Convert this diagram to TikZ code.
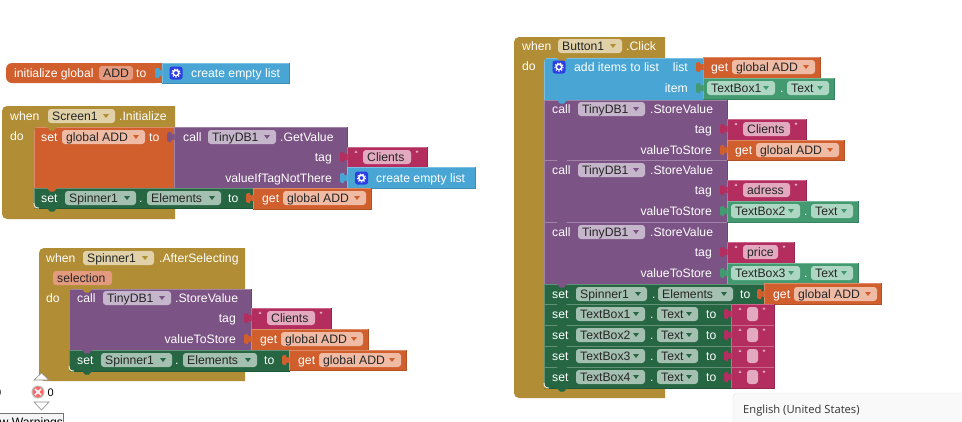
\documentclass[tikz,border=0pt]{standalone}
\usepackage{fontspec}
\setmainfont{Liberation Sans}
\newfontfamily\popupfont{Open Sans}

\definecolor{blkolive}{HTML}{B18E35}
\definecolor{blkorange}{HTML}{D05F2D}
\definecolor{blkblue}{HTML}{49A6D4}
\definecolor{blkpurple}{HTML}{7C5385}
\definecolor{blkmagenta}{HTML}{B32D5E}
\definecolor{blkgreen}{HTML}{266643}
\definecolor{blkteal}{HTML}{439970}
\definecolor{fldolive}{HTML}{E0D1A8}
\definecolor{fldorange}{HTML}{F0BBA5}
\definecolor{fldname}{HTML}{E39A7F}
\definecolor{fldpurple}{HTML}{C6B6CB}
\definecolor{fldmagenta}{HTML}{E3A9BF}
\definecolor{fldgreen}{HTML}{A4C0B1}
\definecolor{fldteal}{HTML}{ADD7C3}
\definecolor{iconblue}{HTML}{2B3FE3}

\tikzset{
  blktext/.style={inner sep=0pt,font=\fontsize{12.2}{14}\selectfont},
  lbl/.style={blktext,text=white,anchor=base west},
  lblr/.style={blktext,text=white,anchor=base east},
  fldtext/.style={blktext,text=black!85,anchor=base west},
  quotemark/.style={inner sep=0pt,text=white,font=\fontsize{9}{9}\selectfont}
}

% color, x1, y1, x2, y2
\newcommand{\blk}[5]{
  \fill[#1] (#2,#3) rectangle (#4,#5);
  \draw[#1!72!white,line width=.6pt] (#2,#5) -- (#2,#3) -- (#4,#3);
  \draw[#1!85!black,line width=.6pt] (#2,#5) -- (#4,#5) -- (#4,#3);
}
% x1, y1, x2, y2, x of inner edge, y of bar bottom, y of bottom bar top
\newcommand{\hatblk}[7]{
  \fill[blkolive] (#3,#6) -- (#3,#2) [rounded corners=5pt] -- (#1,#2) -- (#1,#4) [sharp corners] -- (#3,#4)
     -- (#3,#7) -- (#5,#7) -- (#5,#6) -- cycle;
}
% color, x of edge, y of centre
\newcommand{\tabon}[3]{
  \fill[#1] (#2+.5,#3-3) .. controls (#2-1.5,#3-2) and (#2-3,#3-2) .. (#2-3,#3-5)
     -- (#2-5,#3-5) .. controls (#2-7,#3-5) and (#2-7,#3-4) .. (#2-7,#3)
     .. controls (#2-7,#3+4) and (#2-7,#3+5) .. (#2-5,#3+5)
     -- (#2-3,#3+5) .. controls (#2-3,#3+2) and (#2-1.5,#3+2) .. (#2+.5,#3+3) -- cycle;
}
% color, x of left, y of seam
\newcommand{\bump}[3]{
  \fill[#1] (#2+13,#3) -- (#2+16,#3+3.5) -- (#2+20,#3+3.5) -- (#2+23,#3) -- cycle;
}
% rounded inner corners, x and y of the corner
\newcommand{\cornertl}[2]{
  \fill[blkolive] (#1-.5,#2+4) -- (#1-.5,#2-.5) -- (#1+4,#2-.5) .. controls (#1+1,#2) and (#1,#2+1) .. (#1,#2+4) -- cycle;
}
\newcommand{\cornerbl}[2]{
  \fill[blkolive] (#1-.5,#2-5) -- (#1-.5,#2+.5) -- (#1+5,#2+.5) .. controls (#1+1.5,#2) and (#1,#2-1.5) .. (#1,#2-5) -- cycle;
  \draw[white,line width=.8pt] (#1,#2-5) .. controls (#1,#2-1.5) and (#1+1.5,#2) .. (#1+5,#2);
}
% name, field color, triangle color, x1, x2, y, text
\newcommand{\dfld}[7]{
  \fill[#2,rounded corners=3pt] (#4,#6-7) rectangle (#5,#6+7);
  \node[fldtext] (#1) at (#4+4,#6+4.2) {#7};
  \fill[#3] (#5-12,#6-2) -- (#5-6,#6-2) -- (#5-9,#6+2) -- cycle;
}
% name, x1, x2, y, text
\newcommand{\strfld}[5]{
  \fill[fldmagenta,rounded corners=3pt] (#2,#4-7) rectangle (#3,#4+7);
  \node[fldtext] (#1) at (#2+4,#4+4.2) {#5};
  \node[quotemark] (#1open) at (#2-7,#4-2.5) {\textquotedblleft};
  \node[quotemark] (#1close) at (#3+6,#4-2.5) {\textquotedblright};
}
% x, y
\newcommand{\gearicon}[2]{
  \fill[iconblue,rounded corners=2.5pt] (#1-6.5,#2-6.5) rectangle (#1+6.5,#2+6.5);
  \draw[white,line width=1.5pt] (#1,#2) circle (2.8);
  \draw[white,line width=1pt,dash pattern=on 1.3pt off 1.6pt] (#1,#2) circle (4.2);
}

\begin{document}
\begin{tikzpicture}[x=1pt,y=-1pt]
\useasboundingbox (0,0) rectangle (962,421);
\fill[white] (0,0) rectangle (962,421);

% initialize global
\fill[blkorange,rounded corners=6pt] (162,63) -- (6,63) -- (6,83) -- (162,83) -- cycle;
\fill[blkorange] (150,63) rectangle (162,83);
\blk{blkblue}{162}{63}{289}{83}
\tabon{blkblue}{162}{73}
\node[lbl] (initlabel) at (14,77.2) {initialize global};
\fill[fldname,rounded corners=3pt] (99,66) rectangle (133,80);
\node[fldtext] (initname) at (103,77.2) {ADD};
\node[lbl] (initto) at (136,77.2) {to};
\gearicon{176}{73}
\node[lbl] (initlist) at (191,77.2) {create empty list};

% Screen1.Initialize
\hatblk{2}{106}{175}{219}{34}{127}{208}
\node[lbl] (scrwhen) at (10,120.2) {when};
\dfld{scrfield}{fldolive}{blkolive}{48}{115}{116}{Screen1}
\node[lbl] (scrinit) at (119,120.2) {.Initialize};
\node[lbl] (scrdo) at (10,140.2) {do};
\blk{blkorange}{34}{127}{174}{188}
\blk{blkpurple}{174}{127}{347}{188}
\blk{blkmagenta}{347}{147}{427}{167}
\blk{blkblue}{347}{167}{475}{188}
\blk{blkgreen}{34}{188}{253}{208}
\blk{blkorange}{253}{188}{371}{209}
\bump{blkolive}{34}{127}
\bump{blkorange}{34}{188}
\bump{blkgreen}{34}{208}
\cornertl{34}{127}
\cornerbl{34}{208}
\tabon{blkpurple}{174}{137}
\tabon{blkmagenta}{347}{157}
\tabon{blkblue}{347}{178}
\tabon{blkorange}{253}{198}
\node[lbl] (scrset) at (41,141.2) {set};
\dfld{scrglobal}{fldorange}{blkorange}{62}{145}{137}{global ADD}
\node[lbl] (scrto) at (149,141.2) {to};
\node[lbl] (scrcall) at (183,141.2) {call};
\dfld{scrdb}{fldpurple}{blkpurple}{208}{276}{137}{TinyDB1}
\node[lbl] (scrget) at (280,141.2) {.GetValue};
\node[lblr] (scrtag) at (332,161.2) {tag};
\node[lblr] (scrvalue) at (332,182.2) {valueIfTagNotThere};
\strfld{scrclients}{363}{411}{157}{Clients}
\gearicon{361.5}{178}
\node[lbl] (scrlist) at (376,182.2) {create empty list};
\node[lbl] (scrset2) at (41,202.2) {set};
\dfld{scrspinner}{fldgreen}{blkgreen}{65}{136}{198}{Spinner1}
\node[lbl] (scrdot) at (139,202.2) {.};
\dfld{screlements}{fldgreen}{blkgreen}{147}{221}{198}{Elements}
\node[lbl] (scrto2) at (228,202.2) {to};
\node[lbl] (scrgetb) at (262,202.2) {get};
\dfld{scrglobal2}{fldorange}{blkorange}{283}{366}{198}{global ADD}

% Spinner1.AfterSelecting
\hatblk{39}{248}{245}{381}{69}{289}{371}
\node[lbl] (spnwhen) at (46,262.2) {when};
\dfld{spnfield}{fldolive}{blkolive}{83}{154}{258}{Spinner1}
\node[lbl] (spnafter) at (159,262.2) {.AfterSelecting};
\fill[fldname,rounded corners=3pt] (53,271) rectangle (112,285);
\node[fldtext] (spnselection) at (57,282.2) {selection};
\node[lbl] (spndo) at (46,302.2) {do};
\blk{blkpurple}{69}{289}{251}{350}
\blk{blkmagenta}{251}{308}{331}{329}
\blk{blkorange}{251}{329}{368}{350}
\blk{blkgreen}{69}{350}{289}{371}
\blk{blkorange}{289}{350}{406}{370}
\bump{blkolive}{69}{289}
\bump{blkpurple}{69}{350}
\bump{blkgreen}{69}{371}
\cornertl{69}{289}
\cornerbl{69}{371}
\tabon{blkmagenta}{251}{318}
\tabon{blkorange}{251}{339}
\tabon{blkorange}{289}{360}
\node[lbl] (spncall) at (77,302.2) {call};
\dfld{spndb}{fldpurple}{blkpurple}{103}{171}{298}{TinyDB1}
\node[lbl] (spnstore) at (175,302.2) {.StoreValue};
\node[lblr] (spntag) at (236,322.2) {tag};
\node[lblr] (spnvalue) at (236,343.2) {valueToStore};
\strfld{spnclients}{267}{315}{318}{Clients}
\node[lbl] (spnget) at (260,343.2) {get};
\dfld{spnglobal}{fldorange}{blkorange}{281}{363}{339}{global ADD}
\node[lbl] (spnset) at (77,364.2) {set};
\dfld{spnspinner}{fldgreen}{blkgreen}{101}{172}{360}{Spinner1}
\node[lbl] (spndot) at (175,364.2) {.};
\dfld{spnelements}{fldgreen}{blkgreen}{183}{257}{360}{Elements}
\node[lbl] (spnto) at (264,364.2) {to};
\node[lbl] (spngetb) at (298,364.2) {get};
\dfld{spnglobal2}{fldorange}{blkorange}{319}{401}{360}{global ADD}

% Button1.Click
\hatblk{514}{37}{665}{398}{544}{58}{388}
\node[lbl] (btnwhen) at (522,50.2) {when};
\dfld{btnfield}{fldolive}{blkolive}{558}{622}{46}{Button1}
\node[lbl] (btnclick) at (626,50.2) {.Click};
\node[lbl] (btndo) at (522,70.2) {do};
\blk{blkblue}{544}{58}{703}{100}
\blk{blkorange}{703}{57}{820}{78}
\blk{blkteal}{703}{78}{834}{99}
\blk{blkpurple}{544}{100}{727}{160}
\blk{blkmagenta}{727}{119}{806}{140}
\blk{blkorange}{727}{140}{844}{160}
\blk{blkpurple}{544}{160}{727}{222}
\blk{blkmagenta}{727}{180}{806}{201}
\blk{blkteal}{727}{201}{858}{222}
\blk{blkpurple}{544}{222}{727}{284}
\blk{blkmagenta}{727}{242}{794}{263}
\blk{blkteal}{727}{263}{858}{284}
\blk{blkgreen}{544}{284}{764}{304}
\blk{blkorange}{764}{283}{881}{304}
\blk{blkgreen}{544}{304}{731}{325}
\blk{blkmagenta}{731}{304}{774}{325}
\blk{blkgreen}{544}{325}{731}{346}
\blk{blkmagenta}{731}{325}{774}{346}
\blk{blkgreen}{544}{346}{731}{367}
\blk{blkmagenta}{731}{346}{774}{367}
\blk{blkgreen}{544}{367}{731}{388}
\blk{blkmagenta}{731}{367}{774}{388}
\bump{blkolive}{544}{58}
\bump{blkblue}{544}{100}
\bump{blkpurple}{544}{160}
\bump{blkpurple}{544}{222}
\bump{blkpurple}{544}{284}
\bump{blkgreen}{544}{304}
\bump{blkgreen}{544}{325}
\bump{blkgreen}{544}{346}
\bump{blkgreen}{544}{367}
\bump{blkgreen}{544}{388}
\cornertl{544}{58}
\cornerbl{544}{388}
\tabon{blkorange}{703}{67}
\tabon{blkteal}{703}{88}
\tabon{blkmagenta}{727}{129}
\tabon{blkorange}{727}{150}
\tabon{blkmagenta}{727}{190}
\tabon{blkteal}{727}{211}
\tabon{blkmagenta}{727}{252}
\tabon{blkteal}{727}{273}
\tabon{blkorange}{764}{294}
\tabon{blkmagenta}{731}{314}
\tabon{blkmagenta}{731}{335}
\tabon{blkmagenta}{731}{356}
\tabon{blkmagenta}{731}{377}
\gearicon{559}{67}
\node[lbl] (btnadd) at (574,71.2) {add items to list};
\node[lblr] (btnlist) at (688,71.2) {list};
\node[lblr] (btnitem) at (688,92.2) {item};
\node[lbl] (btnget) at (711,71.2) {get};
\dfld{btnglobal}{fldorange}{blkorange}{732}{815}{67}{global ADD}
\dfld{btnbox}{fldteal}{blkteal}{707}{775}{88}{TextBox1}
\node[lbl] (btndot) at (780,92.2) {.};
\dfld{btntext}{fldteal}{blkteal}{787}{829}{88}{Text}

\node[lbl] (calla) at (552,113.2) {call};
\dfld{dba}{fldpurple}{blkpurple}{578}{645}{109}{TinyDB1}
\node[lbl] (storea) at (650,113.2) {.StoreValue};
\node[lblr] (taga) at (712,133.2) {tag};
\node[lblr] (valuea) at (712,154.2) {valueToStore};
\strfld{clientsa}{743}{790}{129}{Clients}
\node[lbl] (geta) at (735,154.2) {get};
\dfld{globala}{fldorange}{blkorange}{756}{839}{150}{global ADD}

\node[lbl] (callb) at (552,174.2) {call};
\dfld{dbb}{fldpurple}{blkpurple}{578}{645}{170}{TinyDB1}
\node[lbl] (storeb) at (650,174.2) {.StoreValue};
\node[lblr] (tagb) at (712,194.2) {tag};
\node[lblr] (valueb) at (712,215.2) {valueToStore};
\strfld{adress}{743}{790}{190}{adress}
\dfld{boxb}{fldteal}{blkteal}{731}{800}{211}{TextBox2}
\node[lbl] (dotb) at (804,215.2) {.};
\dfld{textb}{fldteal}{blkteal}{811}{853}{211}{Text}

\node[lbl] (callc) at (552,236.2) {call};
\dfld{dbc}{fldpurple}{blkpurple}{578}{645}{232}{TinyDB1}
\node[lbl] (storec) at (650,236.2) {.StoreValue};
\node[lblr] (tagc) at (712,256.2) {tag};
\node[lblr] (valuec) at (712,277.2) {valueToStore};
\strfld{price}{743}{778}{252}{price}
\dfld{boxc}{fldteal}{blkteal}{731}{800}{273}{TextBox3}
\node[lbl] (dotc) at (804,277.2) {.};
\dfld{textc}{fldteal}{blkteal}{811}{853}{273}{Text}

\node[lbl] (setspn) at (552,298.2) {set};
\dfld{spinnerd}{fldgreen}{blkgreen}{576}{647}{294}{Spinner1}
\node[lbl] (dotd) at (652,298.2) {.};
\dfld{elementsd}{fldgreen}{blkgreen}{658}{733}{294}{Elements}
\node[lbl] (tod) at (740,298.2) {to};
\node[lbl] (getd) at (773,298.2) {get};
\dfld{globald}{fldorange}{blkorange}{794}{877}{294}{global ADD}

\node[lbl] (seta) at (552,318.2) {set};
\dfld{boxe}{fldgreen}{blkgreen}{576}{645}{314}{TextBox1}
\node[lbl] (dote) at (650,318.2) {.};
\dfld{texte}{fldgreen}{blkgreen}{657}{698}{314}{Text}
\node[lbl] (toe) at (706,318.2) {to};
\strfld{stre}{747}{758}{314}{}

\node[lbl] (setb) at (552,339.2) {set};
\dfld{boxf}{fldgreen}{blkgreen}{576}{645}{335}{TextBox2}
\node[lbl] (dotf) at (650,339.2) {.};
\dfld{textf}{fldgreen}{blkgreen}{657}{698}{335}{Text}
\node[lbl] (tof) at (706,339.2) {to};
\strfld{strf}{747}{758}{335}{}

\node[lbl] (setc) at (552,360.2) {set};
\dfld{boxg}{fldgreen}{blkgreen}{576}{645}{356}{TextBox3}
\node[lbl] (dotg) at (650,360.2) {.};
\dfld{textg}{fldgreen}{blkgreen}{657}{698}{356}{Text}
\node[lbl] (tog) at (706,360.2) {to};
\strfld{strg}{747}{758}{356}{}

\node[lbl] (setd) at (552,381.2) {set};
\dfld{boxh}{fldgreen}{blkgreen}{576}{645}{377}{TextBox4}
\node[lbl] (doth) at (650,381.2) {.};
\dfld{texth}{fldgreen}{blkgreen}{657}{698}{377}{Text}
\node[lbl] (toh) at (706,381.2) {to};
\strfld{strh}{747}{758}{377}{}

% warnings counter
\draw[black!45,fill=white,line width=.6pt] (34,380) -- (41.5,373) -- (49,380) -- cycle;
\draw[black!45,fill=white,line width=.6pt] (34,402) -- (41.5,410) -- (49,402) -- cycle;
\draw[black!25,fill=red!60!white,line width=1pt] (38,392) circle (6);
\draw[white,line width=1.6pt] (35,389) -- (41,395);
\draw[white,line width=1.6pt] (41,389) -- (35,395);
\node[blktext,anchor=base west,font=\fontsize{11}{13}\selectfont] (errcount) at (47.5,396) {0};
\node[blktext,anchor=base east,font=\fontsize{11}{13}\selectfont] (warncount) at (1.5,396) {0};
\draw[black!55,fill=black!4,line width=.6pt] (-2,413) rectangle (63.5,425);
\node[blktext,anchor=base west] (warnbutton) at (-.5,426) {w Warnings};

% language popup
\draw[black!10,fill=black!2.5,rounded corners=4pt] (733,393) rectangle (970,430);
\node[inner sep=0pt,anchor=base west,text=black!80,font=\popupfont\fontsize{11.2}{13}\selectfont] (language) at (743,413) {English (United States)};
\end{tikzpicture}
\end{document}
